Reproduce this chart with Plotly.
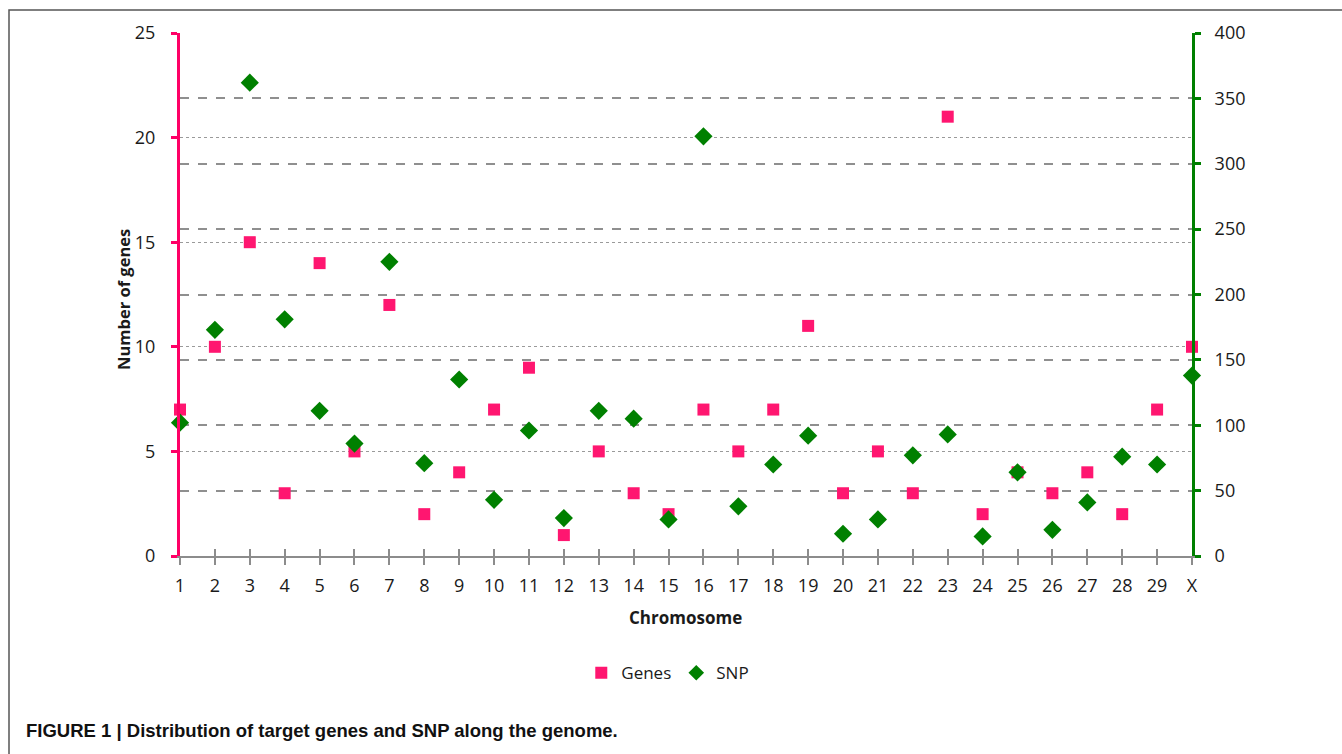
import plotly.graph_objects as go

chromosomes = [str(i) for i in range(1, 30)] + ["X"]
genes = [7, 10, 15, 3, 14, 5, 12, 2, 4, 7, 9, 1, 5, 3, 2, 7, 5, 7, 11, 3, 5, 3, 21, 2, 4, 3, 4, 2, 7, 10]
snp = [102, 173, 362, 181, 111, 86, 225, 71, 135, 43, 96, 29, 111, 105, 28, 321, 38, 70, 92, 17,
       28, 77, 93, 15, 64, 20, 41, 76, 70, 138]

PINK = "#FF1670"
GREEN = "#008000"
TICKFONT = dict(family="Open Sans, Lato, sans-serif", size=18, color="#1a1a1a")

fig = go.Figure()
fig.add_trace(go.Scatter(x=chromosomes, y=genes, mode="markers", name="Genes",
                         marker=dict(symbol="square", size=12, color=PINK),
                         cliponaxis=False, yaxis="y"))
fig.add_trace(go.Scatter(x=chromosomes, y=snp, mode="markers", name="SNP",
                         marker=dict(symbol="diamond", size=14, color=GREEN),
                         cliponaxis=False, yaxis="y2"))

fig.update_layout(
    width=1342, height=754,
    margin=dict(l=180, r=150, t=33, b=198),
    paper_bgcolor="white", plot_bgcolor="white",
    showlegend=True,
    legend=dict(orientation="h", x=0.482, y=-0.224, xanchor="center", yanchor="middle",
                font=dict(family="Open Sans, Lato, sans-serif", size=17, color="#1a1a1a"),
                itemsizing="constant", itemwidth=30, tracegroupgap=0),
    xaxis=dict(type="category", range=[0, 29], showline=True, linecolor="#8c8c8c", linewidth=2,
               ticks="outside", ticklen=7, tickwidth=2, tickcolor="#8c8c8c",
               showgrid=False, zeroline=False, tickfont=TICKFONT, ticklabelstandoff=5),
    xaxis2=dict(overlaying="x", anchor="y", range=[0, 29], dtick=1, tick0=0,
                ticks="inside", ticklen=7, tickwidth=2, tickcolor="#8c8c8c",
                showticklabels=False, showgrid=False, zeroline=False, showline=False,
                side="bottom"),
    yaxis=dict(range=[0, 25], dtick=5, showline=True, linecolor="#FF0066", linewidth=3,
               ticks="outside", ticklen=6, tickwidth=3, tickcolor="#FF0066",
               showgrid=True, gridcolor="#9a9a9a", griddash="dot", gridwidth=1,
               zeroline=False, tickfont=TICKFONT, ticklabelstandoff=12),
    yaxis2=dict(range=[0, 400], dtick=50, overlaying="y", side="right", anchor="x",
                showline=True, linecolor=GREEN, linewidth=3,
                ticks="outside", ticklen=6, tickwidth=3, tickcolor=GREEN,
                showgrid=True, gridcolor="#8f8f8f", griddash="dash", gridwidth=1.5,
                zeroline=False, tickfont=TICKFONT, ticklabelstandoff=10),
)

# dummy invisible trace to activate xaxis2 (inside half of crossing ticks)
fig.add_trace(go.Scatter(x=[0, 29], y=[None, None], xaxis="x2", yaxis="y",
                         mode="markers", showlegend=False, hoverinfo="skip"))

fig.add_annotation(text="<b>Number of genes</b>", xref="paper", yref="paper",
                   x=(123 - 180) / 1012, y=(556 - 300) / 523, textangle=-90,
                   showarrow=False, xanchor="center", yanchor="middle",
                   font=dict(family="Open Sans, Lato, sans-serif", size=16.5, color="#1a1a1a"))
fig.add_annotation(text="<b>Chromosome</b>", xref="paper", yref="paper",
                   x=(685 - 180) / 1012, y=(556 - 617) / 523,
                   showarrow=False, xanchor="center", yanchor="middle",
                   font=dict(family="Open Sans, Lato, sans-serif", size=17, color="#1a1a1a"))
fig.add_annotation(text="<b>FIGURE 1 | Distribution of target genes and SNP along the genome.</b>",
                   xref="paper", yref="paper",
                   x=(24 - 180) / 1012, y=(556 - 730) / 523,
                   showarrow=False, xanchor="left", yanchor="middle",
                   font=dict(family="Liberation Sans, Arial, sans-serif",
                             size=18.5, color="#111111"))

# figure frame
fig.add_shape(type="rect", xref="paper", yref="paper",
              x0=(9 - 180) / 1012, x1=(1360 - 180) / 1012,
              y0=(556 - 770) / 523, y1=(556 - 10) / 523,
              line=dict(color="#555555", width=1.5), fillcolor="rgba(0,0,0,0)", layer="below")

fig.write_html("out.html", config={"displayModeBar": False},
               post_script="document.body.style.margin='0';document.body.style.overflow='hidden';")
